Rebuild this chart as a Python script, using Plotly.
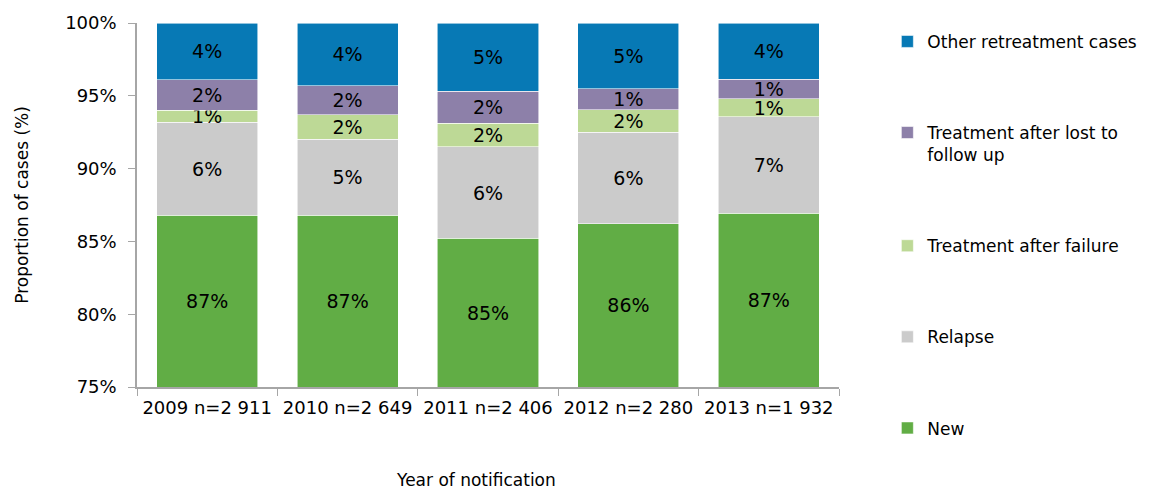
import plotly.graph_objects as go

# ===============================
#  データ
# ===============================
years = ["2009 n=2 911", "2010 n=2 649", "2011 n=2 406", "2012 n=2 280", "2013 n=1 932"]

new_cases = [86.8, 86.8, 85.2, 86.2, 86.95]
relapse = [6.4, 5.2, 6.3, 6.3, 6.6]
after_failure = [0.8, 1.7, 1.6, 1.55, 1.25]
after_lost = [2.1, 2.0, 2.2, 1.45, 1.35]
other_retreatment = [3.9, 4.3, 4.7, 4.5, 3.85]

Y_MIN = 75  # 軸の下限（Excel同様、棒はここから描く）

series = [
    ("New", new_cases, "#61AD45"),
    ("Relapse", relapse, "#CBCBCB"),
    ("Treatment after failure", after_failure, "#BDD996"),
    ("Treatment after lost to<br>follow up", after_lost, "#8D80A9"),
    ("Other retreatment cases", other_retreatment, "#0779B5"),
]

FONT = "DejaVu Sans"

fig = go.Figure()

# 見えない土台（軸下限まで）
fig.add_bar(
    x=years,
    y=[Y_MIN] * len(years),
    marker=dict(color="rgba(0,0,0,0)"),
    showlegend=False,
    hoverinfo="skip",
)

# 下から積み上げ、凡例は上から逆順
for i, (name, vals, color) in enumerate(series):
    shown = [v - Y_MIN for v in vals] if i == 0 else vals
    fig.add_bar(
        x=years,
        y=shown,
        customdata=vals,
        name=name,
        legendgroup=name,
        legendrank=len(series) - i,
        marker=dict(color=color, line=dict(width=0.8, color="rgba(255,255,255,0.7)")),
        texttemplate="%{customdata:.0f}%",
        hovertemplate="%{x}<br>%{customdata}%<extra>" + name + "</extra>",
        textposition="inside",
        insidetextanchor="middle",
        constraintext="none",
        textangle=0,
        textfont=dict(family=FONT, size=19, color="black"),
    )

# ページ余白(8px)を考慮したサイズ
fig.update_layout(
    barmode="stack",
    bargap=0.28,
    width=1145,
    height=481,
    margin=dict(l=129, r=314, t=15, b=102),
    plot_bgcolor="white",
    paper_bgcolor="white",
    font=dict(family=FONT, size=17, color="black"),
    legend=dict(
        tracegroupgap=66,
        valign="top",
        xref="container",
        yref="container",
        x=0.768,
        y=0.967,
        xanchor="left",
        yanchor="top",
        maxheight=470,
        font=dict(family=FONT, size=17),
    ),
    xaxis=dict(
        showline=True,
        linecolor="#A6A6A6",
        linewidth=1.5,
        ticks="outside",
        tickson="boundaries",
        ticklen=7,
        tickcolor="#A6A6A6",
        tickfont=dict(size=18),
        ticklabelstandoff=4,
        automargin=False,
    ),
    yaxis=dict(
        title=dict(text="Proportion of cases (%)", standoff=32, font=dict(size=17)),
        range=[Y_MIN, 100],
        dtick=5,
        ticksuffix="%",
        showgrid=False,
        zeroline=False,
        showline=True,
        linecolor="#A6A6A6",
        linewidth=1.5,
        ticks="outside",
        ticklen=7,
        tickcolor="#A6A6A6",
        tickfont=dict(size=18),
        ticklabelstandoff=8,
        automargin=False,
    ),
    annotations=[
        dict(
            text="Year of notification",
            xref="paper",
            yref="paper",
            x=0.483,
            y=-0.2555,
            xanchor="center",
            yanchor="middle",
            showarrow=False,
            font=dict(family=FONT, size=17),
        )
    ],
)

fig.write_html("out.html")
